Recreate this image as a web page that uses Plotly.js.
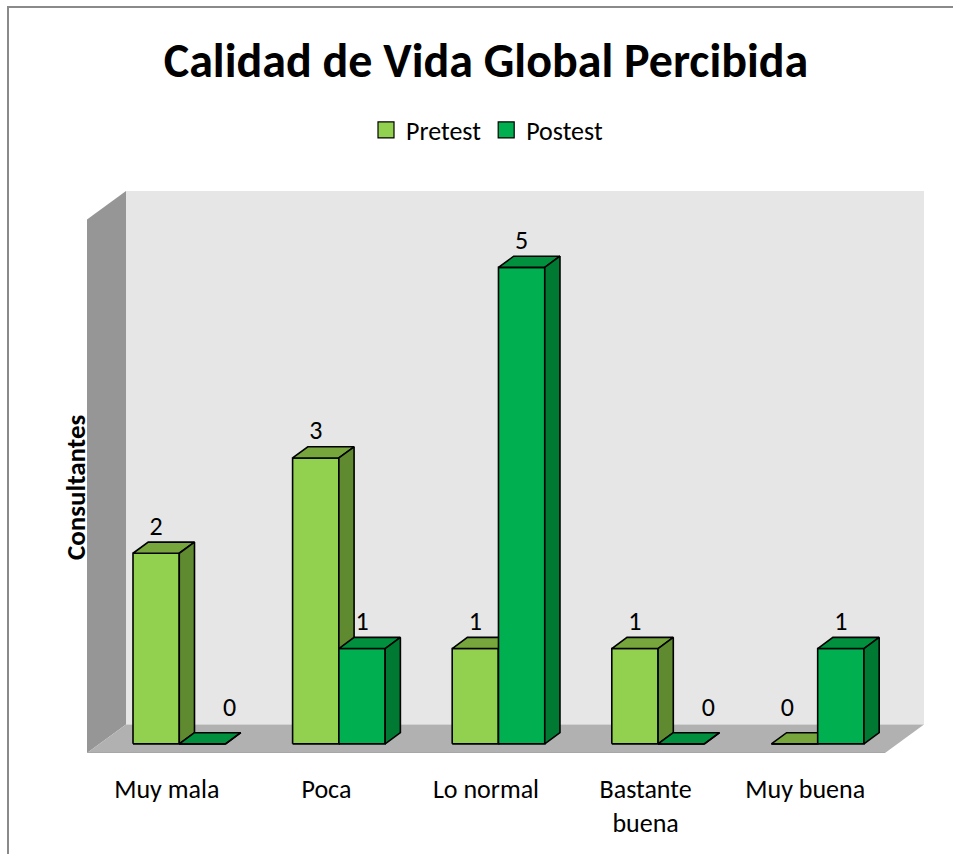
<!DOCTYPE html>
<html>
<head>
<meta charset="utf-8">
<script src="https://cdn.plot.ly/plotly-3.0.1.min.js"></script>
<style>
  html, body { margin: 0; padding: 0; background: #ffffff; }
  #chart { width: 953px; height: 854px; }
</style>
</head>
<body>
<div id="chart"></div>
<script>
// ---------- data ----------
const categories = ['Muy mala', 'Poca', 'Lo normal', 'Bastante buena', 'Muy buena'];
const tickLabels = ['Muy mala', 'Poca', 'Lo normal', 'Bastante<br>buena', 'Muy buena'];
const seriesNames = ['Pretest', 'Postest'];
const pretest = [2, 3, 1, 1, 0];
const postest = [0, 1, 5, 0, 1];

// ---------- styling / geometry ----------
const FONT = 'Carlito, Lato, sans-serif';
const W = 953, H = 854;
const PL = 87, PR = 924, PT = 191, PB = 753;   // plot area in pixels
const DX = 0.2444;          // depth of floor in x units
const DY = 0.30;            // depth of floor in y units
const YT = (PB - PT) / 95.3; // y range top
const BW = 0.29;            // bar width
const ZF = 0.32, ZB = 0.71; // bar front / back depth fractions
const colors = {
  Pretest: { front: '#92D050', top: '#76A63C', side: '#5F8A2F' },
  Postest: { front: '#00B050', top: '#00903E', side: '#007A33' }
};

const sxf = ZF * DX, syf = ZF * DY, sxb = ZB * DX, syb = ZB * DY;

function faceTrace(values, series, face) {
  const xs = [], ys = [];
  const off = series === 'Pretest' ? -BW : 0;
  values.forEach((v, i) => {
    const x0 = i + off, x1 = x0 + BW;
    let pts;
    if (face === 'front') {
      pts = [[x0 + sxf, syf], [x1 + sxf, syf], [x1 + sxf, v + syf], [x0 + sxf, v + syf]];
    } else if (face === 'top') {
      pts = [[x0 + sxf, v + syf], [x1 + sxf, v + syf], [x1 + sxb, v + syb], [x0 + sxb, v + syb]];
    } else {
      pts = [[x1 + sxf, syf], [x1 + sxb, syb], [x1 + sxb, v + syb], [x1 + sxf, v + syf]];
    }
    pts.push(pts[0]);
    pts.forEach(p => { xs.push(p[0]); ys.push(p[1]); });
    xs.push(null); ys.push(null);
  });
  return {
    type: 'scatter', mode: 'lines', x: xs, y: ys,
    fill: 'toself', fillcolor: colors[series][face],
    line: { color: '#000000', width: 1.6 },
    hoverinfo: 'skip', showlegend: false
  };
}

function labelTrace(values, series) {
  const off = series === 'Pretest' ? -BW : 0;
  const xs = [], ys = [], txt = [];
  values.forEach((v, i) => {
    let cx = i + off + BW / 2 + sxf;
    let oy = 25 / 95.3;
    if (v === 0) {
      cx += series === 'Pretest' ? -0.045 : 0.17;
      oy = 34 / 95.3;
    }
    xs.push(cx); ys.push(v + syf + oy); txt.push(String(v));
  });
  return {
    type: 'scatter', mode: 'text', x: xs, y: ys, text: txt,
    textposition: 'middle center',
    textfont: { family: FONT, size: 26, color: '#000000' },
    hoverinfo: 'skip', showlegend: false
  };
}

const traces = [];
[['Pretest', pretest], ['Postest', postest]].forEach(([s, vals]) => {
  traces.push(faceTrace(vals, s, 'front'));
  traces.push(faceTrace(vals, s, 'top'));
  traces.push(faceTrace(vals, s, 'side'));
});
traces.push(labelTrace(pretest, 'Pretest'));
traces.push(labelTrace(postest, 'Postest'));
// legend entries
seriesNames.forEach(s => {
  traces.push({
    type: 'scatter', mode: 'markers', x: [null], y: [null], name: s,
    marker: { symbol: 'square', size: 16, color: colors[s].front, line: { color: '#000', width: 1.2 } },
    showlegend: true, hoverinfo: 'skip'
  });
});

// walls
const x0w = -0.5, x1w = categories.length - 0.5;
const pw = PR - PL, ph = PB - PT;
const px2paperX = px => (px - PL) / pw;
const px2paperY = py => (PB - py) / ph;
const shapes = [
  { type: 'path', xref: 'x', yref: 'y', layer: 'below',
    path: `M${x0w + DX},${DY} L${x1w + DX},${DY} L${x1w + DX},${YT} L${x0w + DX},${YT} Z`,
    fillcolor: '#E6E6E6', line: { width: 0 } },
  { type: 'path', xref: 'x', yref: 'y', layer: 'below',
    path: `M${x0w},0 L${x0w + DX},${DY} L${x0w + DX},${YT} L${x0w},${YT - DY} Z`,
    fillcolor: '#969696', line: { width: 0 } },
  { type: 'path', xref: 'x', yref: 'y', layer: 'below',
    path: `M${x0w},0 L${x1w},0 L${x1w + DX},${DY} L${x0w + DX},${DY} Z`,
    fillcolor: '#B1B1B1', line: { width: 0 } },
  { type: 'line', xref: 'x', yref: 'y', layer: 'below',
    x0: x0w, y0: -0.01, x1: x1w, y1: -0.01, line: { color: '#8C8C8C', width: 2.5 } },
  // outer border (left and top)
  { type: 'line', xref: 'paper', yref: 'paper', layer: 'above',
    x0: px2paperX(8), y0: px2paperY(7), x1: px2paperX(8), y1: px2paperY(H + 5), line: { color: '#8A8A8A', width: 2 } },
  { type: 'line', xref: 'paper', yref: 'paper', layer: 'above',
    x0: px2paperX(7), y0: px2paperY(7), x1: px2paperX(W + 5), y1: px2paperY(7), line: { color: '#8A8A8A', width: 2 } }
];

const layout = {
  width: W, height: H,
  margin: { l: PL, r: W - PR, t: PT, b: H - PB, pad: 0 },
  paper_bgcolor: '#ffffff', plot_bgcolor: 'rgba(0,0,0,0)',
  font: { family: FONT, color: '#000000' },
  title: {
    text: '<b>Calidad de Vida Global Percibida</b>',
    font: { family: FONT, size: 48, color: '#000000' },
    x: 486 / W, xanchor: 'center', xref: 'container',
    y: 1 - 60 / H, yanchor: 'middle', yref: 'container'
  },
  showlegend: true,
  legend: {
    orientation: 'h', x: px2paperX(487), xanchor: 'center',
    y: px2paperY(130), yanchor: 'middle',
    font: { family: FONT, size: 26, color: '#000' },
    bgcolor: 'rgba(0,0,0,0)', itemclick: false, itemdoubleclick: false
  },
  xaxis: {
    range: [x0w, x1w + DX], fixedrange: true,
    tickmode: 'array', tickvals: categories.map((c, i) => i), ticktext: tickLabels,
    tickfont: { family: FONT, size: 26, color: '#000' },
    ticks: 'outside', ticklen: 13, tickcolor: 'rgba(0,0,0,0)',
    showgrid: false, zeroline: false, showline: false
  },
  yaxis: {
    range: [0, YT], fixedrange: true,
    showticklabels: false, showgrid: false, zeroline: false, showline: false, ticks: ''
  },
  annotations: [{
    text: '<b>Consultantes</b>', xref: 'paper', yref: 'paper',
    x: px2paperX(75), y: px2paperY(488), xanchor: 'center', yanchor: 'middle',
    textangle: -90, showarrow: false,
    font: { family: FONT, size: 27, color: '#000' }
  }],
  shapes: shapes
};

Plotly.newPlot('chart', traces, layout, { displayModeBar: false, staticPlot: true });
</script>
</body>
</html>
